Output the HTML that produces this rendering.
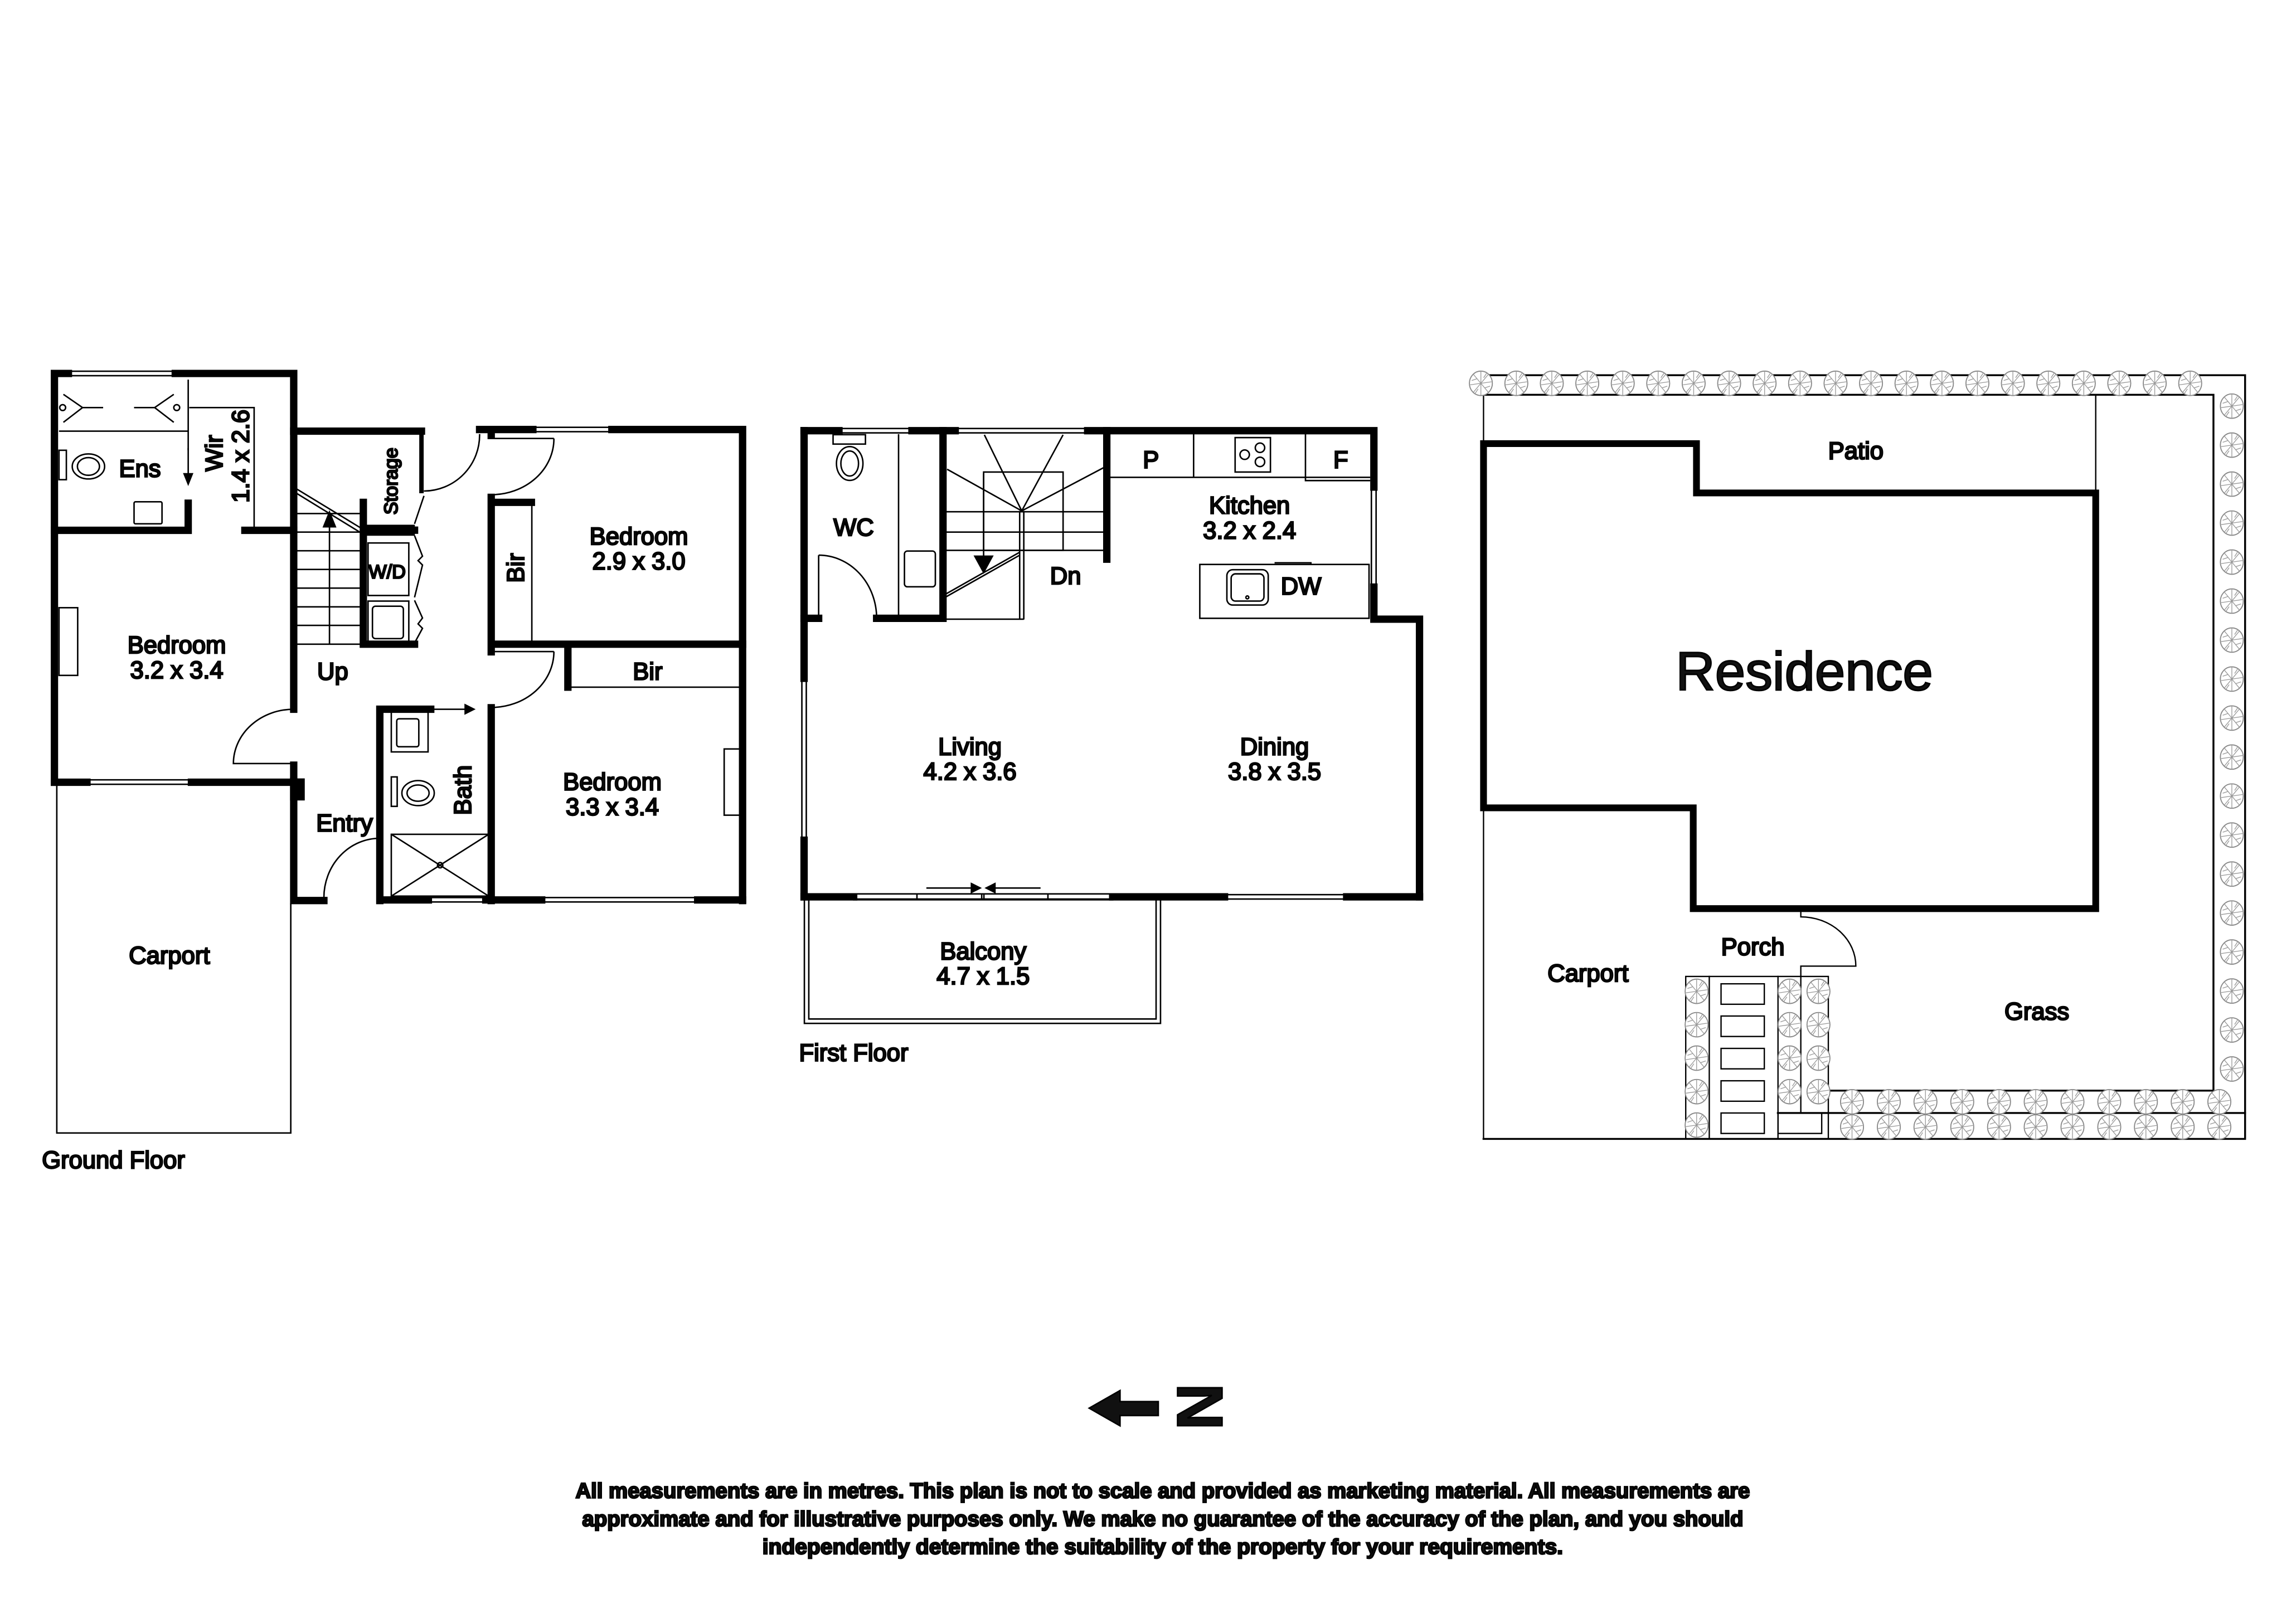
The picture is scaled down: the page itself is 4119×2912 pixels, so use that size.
<!DOCTYPE html>
<html><head><meta charset="utf-8"><style>
html,body{margin:0;padding:0;background:#fff}
svg{display:block}
text{font-family:"Liberation Sans",Arial,sans-serif;fill:#111}
</style></head><body>
<svg width="4119" height="2912" viewBox="0 0 1560 1103" xmlns="http://www.w3.org/2000/svg">
<defs>
<g id="sh">
<ellipse cx="0" cy="0" rx="7.8" ry="8.3" fill="#fff" stroke="#888" stroke-width="0.7"/>
<path d="M0 0L-5 -6M0 0L0 -8M0 0L5 -6M0 0L7 -1M0 0L5 6M0 0L0 8M0 0L-5 6M0 0L-7 1M-3 -3L-6 -2M3 3L6 2M2 -4L4 -7M-2 4L-4 7" stroke="#999" stroke-width="0.5" fill="none"/>
</g>
</defs>
<rect width="1560" height="1103" fill="#fff"/>

<!-- ================= GROUND FLOOR ================= -->
<g fill="none" stroke="#000" stroke-linecap="square">
<!-- thick walls -->
<g stroke-width="5">
<path d="M36.9 253.8V531.6M36.9 253.8H46.4M119 253.8H199.5V293H286.3"/>
<path d="M36.9 360.4H127.8V342M166.3 360.4H199.5"/>
<path d="M199.5 293V482M199.5 520V531.6M36.9 531.6H59M130 531.6H199.5"/>
<path d="M199.5 531V612H220"/>
<path d="M258 612V482H292.6M333.7 481V612M258 611.6H291M330 611.6H368M474 611.6H504.5"/>
<path d="M504.5 291.9V612M325.8 291.9H362M415.7 291.9H504.5M333.7 291.9V296"/>
<path d="M333.7 338V443M333.7 341.4H361M333.7 437.8H504.5M385.8 440V467"/>
<path d="M246.8 341.4V437.8H281.6M246.8 360.3H281.6"/>
</g>
<path d="M286.3 293V333.7" stroke-width="3"/>
<rect x="197" y="529" width="10" height="15" fill="#000" stroke="none"/>
<rect x="246.8" y="356.6" width="35" height="7.5" fill="#000" stroke="none"/>
<!-- thin lines -->
<g stroke-width="1" stroke-linecap="butt">
<path d="M46.4 252.3H119M46.4 255.3H119M60 530H130M60 533H130M291 610H330M291 613H330M368 610H474M368 613H474M362 290.4H415.7M362 293.4H415.7"/>
<path d="M127.8 258V296M127.8 296V306"/>
<path d="M128.5 277H172.6V360.4"/>
<path d="M40 293H127.8M43 268L56 277L43 287M118 268L105 277L118 287M56 277H70M91 277H105"/>
<circle cx="42.5" cy="277" r="2"/><circle cx="120" cy="277" r="2"/>
<path d="M361.3 343V437M385.8 467H504.5"/>
<path d="M199.5 349H246.8M199.5 361.6H246.8M199.5 374.3H246.8M199.5 387H246.8M199.5 399.7H246.8M199.5 412.4H246.8M199.5 425H246.8M199.5 437.8H246.8"/>
<path d="M223.8 437.8V356M201 332L247 360M201 335L245 362"/>
<rect x="250" y="369" width="27.7" height="35.7"/>
<rect x="250" y="408.5" width="27.7" height="29.3"/>
<rect x="253" y="412" width="21" height="22" rx="2"/>
<path d="M281.6 364L287 378L284 381L287 384L281.6 406M281.6 408L287 420L284 424L287 427L281.6 437"/>
<path d="M281.6 356L288 337"/>
<!-- doors -->
<path d="M287.9 333.7A38 38 0 0 0 325.8 295"/>
<path d="M376.3 298A42.6 38 0 0 1 333.7 336.2M333.7 298H376.3"/>
<path d="M376.3 442.8A42.6 38 0 0 1 333.7 480.8M333.7 442.8H376.3"/>
<path d="M199.5 482A41 37 0 0 0 158.5 518.9H199.5"/>
<path d="M258 569.7A38 40.3 0 0 0 220 610M258 569.7V612"/>
<path d="M292.6 482H317"/>
<!-- fixtures -->
<rect x="40" y="306" width="5" height="20"/>
<ellipse cx="60" cy="317" rx="11" ry="8.5"/><ellipse cx="60" cy="317" rx="7.5" ry="6"/>
<rect x="91" y="341" width="19" height="15" rx="1"/>
<rect x="40" y="413" width="12.7" height="46"/>
<rect x="492" y="509" width="12" height="45"/>
<rect x="265.8" y="483" width="25" height="28"/>
<rect x="269.5" y="488.5" width="15" height="19" rx="1.5"/>
<rect x="265.8" y="528" width="4" height="20"/>
<ellipse cx="284" cy="539" rx="11" ry="8.5"/><ellipse cx="284" cy="539" rx="7.5" ry="5.5"/>
<rect x="265.8" y="567" width="66.2" height="42"/>
<path d="M265.8 567L332 609M332 567L265.8 609"/>
<circle cx="299" cy="588" r="1.8"/>
<!-- carport -->
<path d="M38.5 534V770H197.5V614"/>
</g>
<path d="M127.8 305V327" stroke="#000" stroke-width="1"/>
<path d="M125 322L127.8 329L130.6 322Z" fill="#000"/>
<path d="M219.8 358L223.8 348L227.8 358Z" fill="#000"/>
<path d="M316 479L322 482L316 485Z" fill="#000"/>

<g font-size="16.5" text-anchor="middle">
<text x="95" y="324">Ens</text>
<text transform="translate(151,308) rotate(-90)">Wir</text>
<text transform="translate(169,310) rotate(-90)">1.4 x 2.6</text>
<text x="120" y="444">Bedroom</text><text x="120" y="461">3.2 x 3.4</text>
<text x="226" y="462">Up</text>
<text transform="translate(270,327) rotate(-90)" font-size="13">Storage</text>
<text x="263" y="393" font-size="13">W/D</text>
<text transform="translate(356,386) rotate(-90)">Bir</text>
<text x="434" y="370">Bedroom</text><text x="434" y="387">2.9 x 3.0</text>
<text x="440" y="462">Bir</text>
<text transform="translate(320,537) rotate(-90)">Bath</text>
<text x="416" y="537">Bedroom</text><text x="416" y="554">3.3 x 3.4</text>
<text x="234" y="565">Entry</text>
<text x="115" y="655">Carport</text>
<text x="77" y="794">Ground Floor</text>
</g>

<!-- ================= FIRST FLOOR ================= -->
<g fill="none" stroke="#000" stroke-linecap="square">
<g stroke-width="5">
<path d="M546.3 292.7H570M619.6 292.7H649M739 292.7H933.5V331M933.5 399V420.8H964.5V609.5"/>
<path d="M546.3 609.5H580M756 609.5H832M915 609.5H964.5"/>
<path d="M546.3 292.7V461M546.3 571V609.5"/>
<path d="M546.3 420.2H556.2M595.6 420.2H640.7M640.7 292.7V420.2M752 292.7V380"/>
</g>
<g stroke-width="1" stroke-linecap="butt">
<path d="M570 291.2H619.6M570 294.2H619.6M649 291.2H739M649 294.2H739M544.8 461V571M547.8 461V571M931.8 331V399M935 331V399M832 608H915M832 611H915"/>
<rect x="580" y="607.5" width="176" height="4"/>
<path d="M623 607.5V611.5M667 607.5V611.5M668.5 607.5V611.5M712 607.5V611.5"/>
<path d="M629.4 603.5H660M707 603.5H676"/>
<path d="M610.5 295V420"/>
<rect x="566" y="295.4" width="22" height="6.4"/>
<ellipse cx="577.3" cy="315" rx="9" ry="11.5"/><ellipse cx="577.3" cy="315" rx="6" ry="8.5"/>
<rect x="614.5" y="374.5" width="21" height="24.3" rx="2"/>
<path d="M556.2 377.3A39.4 42.9 0 0 1 595.6 420.2M556.2 377.3V420.2"/>
<!-- stairs -->
<rect x="668.3" y="320.8" width="54" height="53.2"/>
<path d="M694.2 347.2L668.8 295.5M694.2 347.2L722.3 295.5M694.2 347.2L643.5 318.9M694.2 347.2L750.5 317.5"/>
<path d="M642.6 347.8H752M642.6 361.6H752M642.6 374H752M692.8 347.2V421M695.6 347.2V421M642.6 420.8H695.6"/>
<path d="M642.6 403.7L692.8 375.3M642.6 405.7L692.8 377.3"/>
<path d="M668.3 322V380"/>
<!-- kitchen -->
<path d="M753 324.4H931M811 295V324.4M887 295V326.6H931"/>
<rect x="839.2" y="297.4" width="24" height="23.4"/>
<circle cx="845.7" cy="309" r="3.2"/><circle cx="856.1" cy="304.3" r="3.2"/><circle cx="856.1" cy="313.9" r="3.2"/>
<rect x="815.2" y="383.6" width="115" height="36.6"/>
<rect x="833.6" y="387.2" width="28.1" height="24" rx="4"/>
<rect x="836.5" y="390" width="22.3" height="18.5" rx="3"/>
<circle cx="847.5" cy="406" r="1"/>
<path d="M866 382.5H890.7V383.6"/>
<!-- balcony -->
<rect x="546.5" y="611" width="242" height="84.5"/>
<path d="M549.5 611V692.5H785.5V611"/>
</g>
<path d="M660 600.5L666 603.5L660 606.5Z M676 600.5L670 603.5L676 606.5Z" fill="#000"/>
<path d="M662.3 378L668.3 389L674.3 378Z" fill="#000"/>

<g font-size="16.5" text-anchor="middle">
<text x="580" y="364">WC</text>
<text x="724" y="397">Dn</text>
<text x="782" y="318">P</text>
<text x="911" y="318">F</text>
<text x="849" y="349">Kitchen</text><text x="849" y="366">3.2 x 2.4</text>
<text x="884" y="404">DW</text>
<text x="659" y="513">Living</text><text x="659" y="530">4.2 x 3.6</text>
<text x="866" y="513">Dining</text><text x="866" y="530">3.8 x 3.5</text>
<text x="668" y="652">Balcony</text><text x="668" y="669">4.7 x 1.5</text>
<text x="580" y="721">First Floor</text>
</g>

<!-- ================= SITE PLAN ================= -->
<g fill="none" stroke="#000">
<g stroke-width="1.3">
<path d="M1006 255H1525.5V774H1008"/>
<path d="M1008 268.3H1504V741.2H1242.3"/>
<path d="M1208 756.4H1525.5"/>
</g>
<g stroke-width="0.9">
<path d="M1008 268.3V774M1424 268.3V335"/>
<rect x="1145.4" y="663.6" width="96.9" height="110.4"/>
<path d="M1161.4 663.6V774M1208.1 663.6V774M1223.6 663.6V756.4"/>
<rect x="1169.4" y="668.6" width="29.4" height="13.9"/>
<rect x="1169.4" y="690.5" width="29.4" height="13.9"/>
<rect x="1169.4" y="712.5" width="29.4" height="13.9"/>
<rect x="1169.4" y="734.5" width="29.4" height="13.9"/>
<rect x="1169.4" y="756.4" width="29.4" height="13.9"/>
<rect x="1208.1" y="756.4" width="29.7" height="13.9"/>
<path d="M1223.6 620V623.1A37.4 33.5 0 0 1 1261 656.6H1223.6V663.6"/>
</g>
<path d="M1008 301.5H1152.7V335H1424V617.5H1150.5V549H1008Z" stroke-width="4.6" stroke-linejoin="miter"/>
</g>
<g>
<use href="#sh" x="1006.2" y="260.5"/><use href="#sh" x="1030.3" y="260.5"/><use href="#sh" x="1054.4" y="260.5"/><use href="#sh" x="1078.5" y="260.5"/><use href="#sh" x="1102.6" y="260.5"/><use href="#sh" x="1126.7" y="260.5"/><use href="#sh" x="1150.8" y="260.5"/><use href="#sh" x="1174.9" y="260.5"/><use href="#sh" x="1199" y="260.5"/><use href="#sh" x="1223.1" y="260.5"/><use href="#sh" x="1247.2" y="260.5"/><use href="#sh" x="1271.3" y="260.5"/><use href="#sh" x="1295.4" y="260.5"/><use href="#sh" x="1319.5" y="260.5"/><use href="#sh" x="1343.6" y="260.5"/><use href="#sh" x="1367.7" y="260.5"/><use href="#sh" x="1391.8" y="260.5"/><use href="#sh" x="1415.9" y="260.5"/><use href="#sh" x="1440" y="260.5"/><use href="#sh" x="1464.1" y="260.5"/><use href="#sh" x="1488.2" y="260.5"/>
<use href="#sh" x="1516.5" y="276"/><use href="#sh" x="1516.5" y="302.5"/><use href="#sh" x="1516.5" y="329"/><use href="#sh" x="1516.5" y="355.5"/><use href="#sh" x="1516.5" y="382"/><use href="#sh" x="1516.5" y="408.5"/><use href="#sh" x="1516.5" y="435"/><use href="#sh" x="1516.5" y="461.5"/><use href="#sh" x="1516.5" y="488"/><use href="#sh" x="1516.5" y="514.5"/><use href="#sh" x="1516.5" y="541"/><use href="#sh" x="1516.5" y="567.5"/><use href="#sh" x="1516.5" y="594"/><use href="#sh" x="1516.5" y="620.5"/><use href="#sh" x="1516.5" y="647"/><use href="#sh" x="1516.5" y="673.5"/><use href="#sh" x="1516.5" y="700"/><use href="#sh" x="1516.5" y="726.5"/>
<use href="#sh" x="1258.4" y="748.8"/><use href="#sh" x="1283.4" y="748.8"/><use href="#sh" x="1308.3" y="748.8"/><use href="#sh" x="1333.3" y="748.8"/><use href="#sh" x="1358.3" y="748.8"/><use href="#sh" x="1383.2" y="748.8"/><use href="#sh" x="1408.2" y="748.8"/><use href="#sh" x="1433.2" y="748.8"/><use href="#sh" x="1458.1" y="748.8"/><use href="#sh" x="1483.1" y="748.8"/><use href="#sh" x="1508" y="748.8"/>
<use href="#sh" x="1258.4" y="765.9"/><use href="#sh" x="1283.4" y="765.9"/><use href="#sh" x="1308.3" y="765.9"/><use href="#sh" x="1333.3" y="765.9"/><use href="#sh" x="1358.3" y="765.9"/><use href="#sh" x="1383.2" y="765.9"/><use href="#sh" x="1408.2" y="765.9"/><use href="#sh" x="1433.2" y="765.9"/><use href="#sh" x="1458.1" y="765.9"/><use href="#sh" x="1483.1" y="765.9"/><use href="#sh" x="1508" y="765.9"/>
<use href="#sh" x="1152.8" y="673.7"/><use href="#sh" x="1152.8" y="696.4"/><use href="#sh" x="1152.8" y="719.1"/><use href="#sh" x="1152.8" y="741.9"/><use href="#sh" x="1152.8" y="764.6"/>
<use href="#sh" x="1216" y="673.7"/><use href="#sh" x="1216" y="696.4"/><use href="#sh" x="1216" y="719.1"/><use href="#sh" x="1216" y="741.9"/>
<use href="#sh" x="1235.6" y="673.7"/><use href="#sh" x="1235.6" y="696.4"/><use href="#sh" x="1235.6" y="719.1"/><use href="#sh" x="1235.6" y="741.9"/>
</g>
<g font-size="16.5" text-anchor="middle">
<text x="1261" y="312">Patio</text>
<text x="1226" y="469" font-size="37">Residence</text>
<text x="1191" y="649">Porch</text>
<text x="1079" y="667">Carport</text>
<text x="1384" y="693">Grass</text>
</g>

<!-- north arrow -->
<path d="M740 957L761 945V952.5H787V962H761V969Z" fill="#111"/>
<text transform="translate(816,956) rotate(90)" x="0" y="16" font-size="44" font-weight="bold" text-anchor="middle">N</text>

<!-- disclaimer -->
<g font-size="14.3" font-weight="bold" text-anchor="middle">
<text x="790" y="1018" textLength="798" lengthAdjust="spacingAndGlyphs">All measurements are in metres. This plan is not to scale and provided as marketing material. All measurements are</text>
<text x="790" y="1037" textLength="789" lengthAdjust="spacingAndGlyphs">approximate and for illustrative purposes only. We make no guarantee of the accuracy of the plan, and you should</text>
<text x="790" y="1056" textLength="544" lengthAdjust="spacingAndGlyphs">independently determine the suitability of the property for your requirements.</text>
</g>
</svg>
</body></html>
